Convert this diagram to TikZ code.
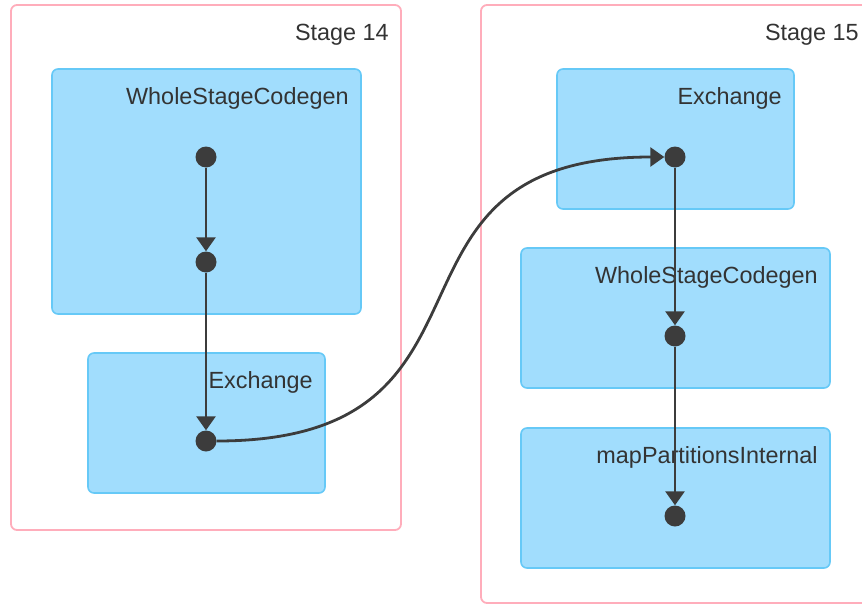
\documentclass[tikz,border=0pt]{standalone}
\usepackage{fontspec}
\setmainfont{Liberation Sans}
\usetikzlibrary{arrows.meta}
\definecolor{stageline}{HTML}{FFADBB}
\definecolor{opfill}{HTML}{A1DDFD}
\definecolor{opline}{HTML}{66C9F7}
\definecolor{edgecol}{HTML}{3C3C3C}
\definecolor{txtcol}{HTML}{333333}
\begin{document}
\begin{tikzpicture}[x=1pt, y=-1pt,
  stage/.style={draw=stageline, line width=1.8pt, rounded corners=6pt, minimum width=390pt},
  opbox/.style={draw=opline, fill=opfill, line width=1.6pt, rounded corners=6pt},
  lbl/.style={anchor=base east, inner sep=0pt, text=txtcol, font=\fontsize{23.4}{28}\selectfont},
  dot/.style={circle, fill=edgecol, inner sep=0pt, minimum size=21pt},
  flow/.style={draw=edgecol, line width=2.8pt, -{Triangle[length=14pt,width=19pt]}}
]
\useasboundingbox (0,0) rectangle (862,605);

% stages
\node[stage, minimum height=525pt] (stA) at (206,267.5) {};
\node[stage, minimum height=598pt] (stB) at (676,304) {};
\node[lbl] at ([shift={(-13,36)}]stA.north east) {Stage 14};
\node[lbl] at ([shift={(-13,36)}]stB.north east) {Stage 15};

% operators
\node[opbox, minimum width=309pt, minimum height=245pt] (wscgA) at (206.5,191.5) {};
\node[opbox, minimum width=237pt, minimum height=140pt] (exchA) at (206.5,423) {};
\node[opbox, minimum width=237pt, minimum height=140pt] (exchB) at (675.5,139) {};
\node[opbox, minimum width=309pt, minimum height=140pt] (wscgB) at (675.5,318) {};
\node[opbox, minimum width=309pt, minimum height=140pt] (mapB) at (675.5,498) {};

\node[lbl] at ([shift={(-13,36)}]wscgA.north east) {WholeStageCodegen};
\node[lbl] at ([shift={(-13,36)}]exchA.north east) {Exchange};
\node[lbl] at ([shift={(-13,36)}]exchB.north east) {Exchange};
\node[lbl] at ([shift={(-13,36)}]wscgB.north east) {WholeStageCodegen};
\node[lbl] at ([shift={(-13,36)}]mapB.north east) {mapPartitionsInternal};

% dots
\node[dot] (a1) at (206,157) {};
\node[dot] (a2) at (206,262) {};
\node[dot] (a3) at (206,441) {};
\node[dot] (b1) at (675,157) {};
\node[dot] (b2) at (675,336) {};
\node[dot] (b3) at (675,516) {};

% edges
\draw[flow] (a1) -- (a2);
\draw[flow] (a2) -- (a3);
\draw[flow] (a3) .. controls +(320,0) and +(-320,0) .. (b1);
\draw[flow] (b1) -- (b2);
\draw[flow] (b2) -- (b3);

\end{tikzpicture}
\end{document}
